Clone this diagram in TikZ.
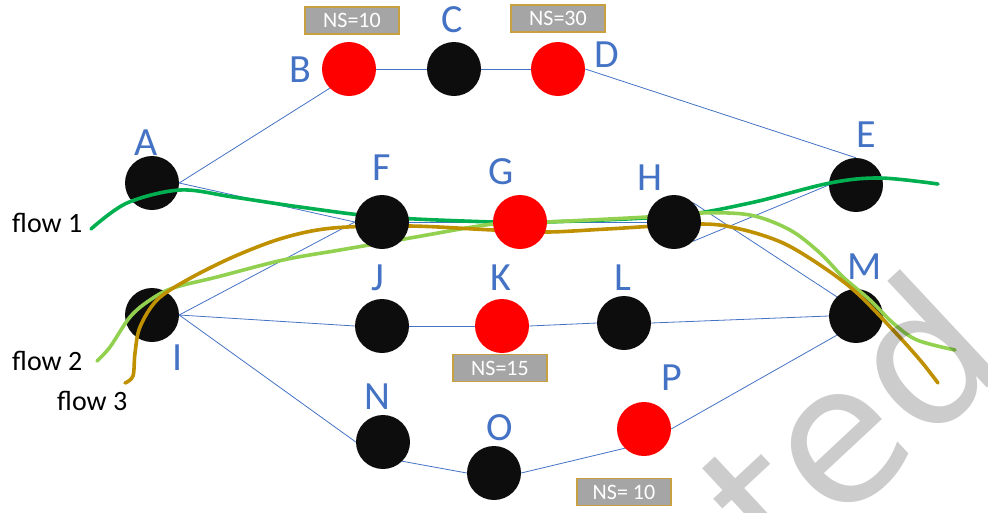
\documentclass[tikz,border=0pt]{standalone}
\usepackage{fontspec}
\setmainfont{Carlito}
\newfontfamily\wmfont{DejaVu Sans}
\definecolor{lblue}{HTML}{4472C4}
\definecolor{nodeblack}{HTML}{0D0D0D}
\definecolor{nodered}{HTML}{FF0000}
\definecolor{nsgray}{HTML}{A5A5A5}
\definecolor{nsgold}{HTML}{C9A040}
\definecolor{flowa}{HTML}{00B050}
\definecolor{flowb}{HTML}{92D050}
\definecolor{flowc}{HTML}{BF9000}
\pgfdeclarelayer{background}
\pgfdeclarelayer{flowlayer}
\pgfdeclarelayer{toplayer}
\pgfsetlayers{background,main,flowlayer,toplayer}
\begin{document}
\begin{tikzpicture}[x=1pt,y=-1pt,
  dot/.style={circle, minimum size=54pt, inner sep=0pt, fill=nodeblack},
  reddot/.style={dot, fill=nodered},
  lbl/.style={text=lblue, font=\fontsize{40}{40}\selectfont, inner sep=0pt},
  edge/.style={draw=lblue, line width=0.8pt},
  nsbox/.style={fill=nsgray, draw=nsgold, line width=1.3pt, text=white,
    font=\fontsize{22}{22}\selectfont, minimum width=94pt, minimum height=27pt, inner sep=0pt},
  flowlbl/.style={font=\fontsize{28}{28}\selectfont, anchor=base west, inner sep=0pt, text=black},
  flowline/.style={line width=3.6pt, line cap=round, line join=round}
]
\useasboundingbox (0,0) rectangle (988,512);
\clip (0,0) rectangle (988,512);

% nodes
\node[reddot] (B) at (349,69) {};
\node[dot]    (C) at (454,69) {};
\node[reddot] (D) at (558,69) {};
\node[dot]    (A) at (152,183) {};
\node[dot]    (E) at (856,185) {};
\node[dot]    (I) at (152,315) {};
\node[dot]    (J) at (382,326) {};
\node[reddot] (K) at (502,326) {};
\node[dot]    (L) at (624,323) {};
\node[dot]    (M) at (856,316) {};
\node[dot]    (N) at (383,442) {};
\node[dot]    (O) at (494,473) {};
\node[reddot] (P) at (644,429) {};
\begin{pgfonlayer}{toplayer}
\node[dot]    (F) at (382,222) {};
\node[reddot] (G) at (520,222) {};
\node[dot]    (H) at (674,222) {};
\end{pgfonlayer}

% labels
\node[lbl] (lA) at (146,143) {A};
\node[lbl] (lB) at (300,70) {B};
\node[lbl] (lC) at (452,20) {C};
\node[lbl] (lD) at (607,55) {D};
\node[lbl] (lE) at (866,135) {E};
\node[lbl] (lF) at (382,168) {F};
\node[lbl] (lG) at (501,172) {G};
\node[lbl] (lH) at (650,178) {H};
\node[lbl] (lI) at (178,358) {I};
\node[lbl] (lJ) at (378,278) {J};
\node[lbl] (lK) at (501,278) {K};
\node[lbl] (lL) at (623,278) {L};
\node[lbl] (lM) at (865,267) {M};
\node[lbl] (lN) at (377,397) {N};
\node[lbl] (lO) at (500,428) {O};
\node[lbl] (lP) at (672,378) {P};

% NS boxes
\node[nsbox] (ns1) at (352,20.5) {NS=10};
\node[nsbox] (ns2) at (558,18.5) {NS=30};
\node[nsbox] (ns3) at (500,368) {NS=15};
\node[nsbox] (ns4) at (624,492) {NS= 10};

% flow labels
\node[flowlbl] (f1) at (12,232) {flow 1};
\node[flowlbl] (f2) at (12,370) {flow 2};
\node[flowlbl] (f3) at (57,410) {flow 3};

% edges
\begin{pgfonlayer}{background}
\draw[edge] (B.east) -- (C.west);
\draw[edge] (C.east) -- (D.west);
\draw[edge] (A.east) -- (B.south west);
\draw[edge] (D.east) -- (E.north);
\draw[edge] (A.east) -- (F.west);
\draw[edge] (F.east) -- (G.west);
\draw[edge] (G.east) -- (H.west);
\draw[edge] (H.south east) -- (E.west);
\draw[edge] (H.north east) -- (M.north west);
\draw[edge] (I.east) -- (F.west);
\draw[edge] (I.east) -- (J.west);
\draw[edge] (I.east) -- (N.west);
\draw[edge] (J.east) -- (K.west);
\draw[edge] (K.east) -- (L.west);
\draw[edge] (L.east) -- (M.west);
\draw[edge] (N.south east) -- (O.west);
\draw[edge] (O.east) -- (P.south west);
\draw[edge] (P.east) -- (M.south west);
\end{pgfonlayer}

% flows
\begin{pgfonlayer}{flowlayer}
\draw[flowline, draw=flowa] plot[smooth, tension=0.55] coordinates {
  (91,229) (127,203) (180,190) (233,197) (300,207) (382,217) (493,222) (547,222)
  (674,216) (750,203) (830,183) (880,178) (938,184)};
\draw[flowline, draw=flowb] plot[smooth, tension=0.55] coordinates {
  (97,361) (110,347) (130,317) (150,300) (173,288) (217,277) (283,260) (340,250)
  (410,238) (493,224) (547,222) (647,217) (700,213) (750,215) (790,230) (820,253)
  (843,277) (870,300) (893,323) (917,340) (955,350)};
\draw[flowline, draw=flowc] plot[smooth, tension=0.55] coordinates {
  (125,383) (133,376) (135,353) (140,327) (157,300) (187,280) (233,257) (283,238)
  (333,228) (410,226) (493,230) (547,232) (607,229) (700,224) (740,229) (783,243)
  (823,267) (857,293) (893,330) (920,360) (938,383)};
\end{pgfonlayer}

% watermark
\begin{pgfonlayer}{toplayer}
\node[text=black, text opacity=0.2, rotate=43, anchor=base, inner sep=0pt,
  font=\wmfont\fontsize{192}{192}\selectfont] (wm) at (897,472) {ted};
\end{pgfonlayer}
\end{tikzpicture}
\end{document}
